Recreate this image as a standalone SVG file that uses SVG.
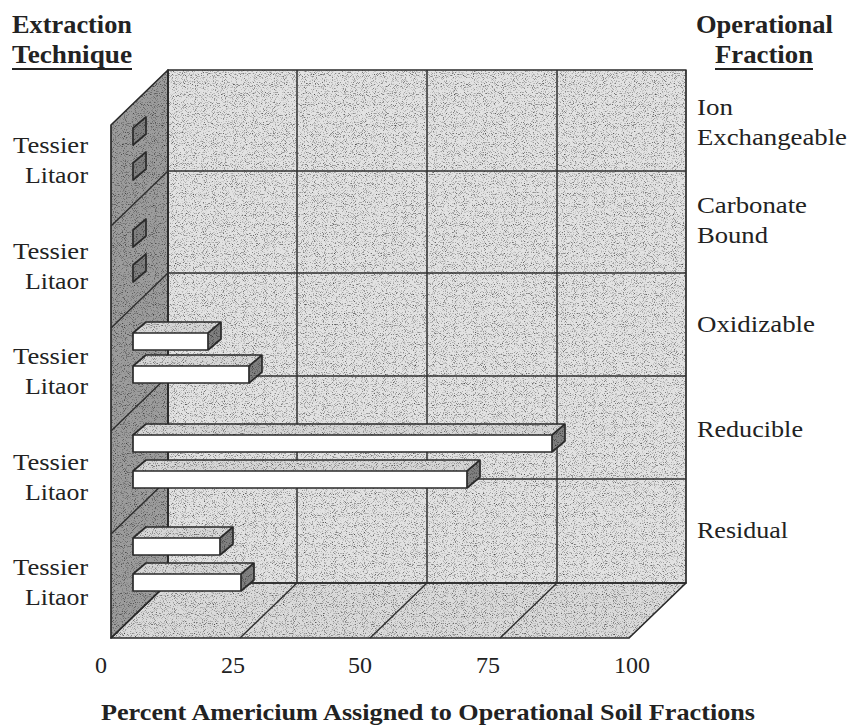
<svg xmlns="http://www.w3.org/2000/svg" width="851" height="728" viewBox="0 0 851 728">
<defs>
<filter id="speckle" filterUnits="userSpaceOnUse" x="0" y="0" width="851" height="728" color-interpolation-filters="sRGB">
<feTurbulence type="fractalNoise" baseFrequency="1.1" numOctaves="1" seed="7" result="n"/>
<feColorMatrix in="n" type="matrix" values="2.2 0 0 0 -0.05  2.2 0 0 0 -0.05  2.2 0 0 0 -0.05  0 0 0 0 1" result="g"/>
<feComposite in="g" in2="SourceGraphic" operator="in" result="gc"/>
<feBlend in="gc" in2="SourceGraphic" mode="multiply"/>
</filter>
<style>
.edge{fill:none;stroke:#2a2a2a;stroke-width:1.7;stroke-linejoin:round}
.grid{fill:none;stroke:#303030;stroke-width:1.5}
.back{fill:#e2e2e2}
.side{fill:#9c9c9c}
.floor{fill:#dadada}
.btop{fill:#d6d6d6}
.bend{fill:#808080}
.bfront{fill:#ffffff}
.t{font-family:'Liberation Serif','Times New Roman',Times,serif;font-size:24px;fill:#222}
.b{font-family:'Liberation Serif','Times New Roman',Times,serif;font-size:25px;font-weight:bold;fill:#222}
</style>
</defs>

<g id="chart-fills" filter="url(#speckle)">
<rect class="back" x="168" y="70" width="518" height="513"/>
<polygon class="side" points="168,70 168,583 111,638 111,125"/>
<polygon class="floor" points="168,583 686,583 629,638 111,638"/>
</g>

<g id="grid">
<rect class="edge" x="168" y="70" width="518" height="513"/>
<polygon class="edge" points="168,70 168,583 111,638 111,125"/>
<polygon class="edge" points="168,583 686,583 629,638 111,638"/>
<path class="grid" d="M168,171H686M168,273H686M168,376H686M168,479H686"/>
<path class="grid" d="M297,70V583M427,70V583M557,70V583"/>
<path class="grid" d="M168,171L111,226M168,273L111,328M168,376L111,431M168,479L111,534"/>
<path class="grid" d="M297,583L240,638M427,583L370,638M557,583L500,638"/>
</g>

<g id="bars">
<g id="bar-ion-tessier"><polygon class="bend" filter="url(#speckle)" points="133,128 146,117 146,134 133,145"/><polygon class="edge" points="133,128 146,117 146,134 133,145"/></g>
<g id="bar-ion-litaor"><polygon class="bend" filter="url(#speckle)" points="133,163 146,152 146,169 133,180"/><polygon class="edge" points="133,163 146,152 146,169 133,180"/></g>
<g id="bar-carb-tessier"><polygon class="bend" filter="url(#speckle)" points="133,230 146,219 146,236 133,247"/><polygon class="edge" points="133,230 146,219 146,236 133,247"/></g>
<g id="bar-carb-litaor"><polygon class="bend" filter="url(#speckle)" points="133,265 146,254 146,271 133,282"/><polygon class="edge" points="133,265 146,254 146,271 133,282"/></g>

<g id="bar-oxid-tessier">
<g filter="url(#speckle)">
<polygon class="btop" points="133,333 146,322 221,322 208,333"/>
<polygon class="bend" points="208,333 221,322 221,339 208,350"/>
</g>
<rect class="bfront" x="133" y="333" width="75" height="17"/>
<path class="edge" d="M133,333L146,322H221L208,333ZM221,322V339L208,350M133,333H208V350H133Z"/>
</g>
<g id="bar-oxid-litaor">
<g filter="url(#speckle)">
<polygon class="btop" points="133,366 146,355 262,355 249,366"/>
<polygon class="bend" points="249,366 262,355 262,372 249,383"/>
</g>
<rect class="bfront" x="133" y="366" width="116" height="17"/>
<path class="edge" d="M133,366L146,355H262L249,366ZM262,355V372L249,383M133,366H249V383H133Z"/>
</g>
<g id="bar-red-tessier">
<g filter="url(#speckle)">
<polygon class="btop" points="133,435 146,424 565,424 552,435"/>
<polygon class="bend" points="552,435 565,424 565,441 552,452"/>
</g>
<rect class="bfront" x="133" y="435" width="419" height="17"/>
<path class="edge" d="M133,435L146,424H565L552,435ZM565,424V441L552,452M133,435H552V452H133Z"/>
</g>
<g id="bar-red-litaor">
<g filter="url(#speckle)">
<polygon class="btop" points="133,471 146,460 480,460 467,471"/>
<polygon class="bend" points="467,471 480,460 480,477 467,488"/>
</g>
<rect class="bfront" x="133" y="471" width="334" height="17"/>
<path class="edge" d="M133,471L146,460H480L467,471ZM480,460V477L467,488M133,471H467V488H133Z"/>
</g>
<g id="bar-res-tessier">
<g filter="url(#speckle)">
<polygon class="btop" points="133,538 146,527 233,527 220,538"/>
<polygon class="bend" points="220,538 233,527 233,544 220,555"/>
</g>
<rect class="bfront" x="133" y="538" width="87" height="17"/>
<path class="edge" d="M133,538L146,527H233L220,538ZM233,527V544L220,555M133,538H220V555H133Z"/>
</g>
<g id="bar-res-litaor">
<g filter="url(#speckle)">
<polygon class="btop" points="133,574 146,563 254,563 241,574"/>
<polygon class="bend" points="241,574 254,563 254,580 241,591"/>
</g>
<rect class="bfront" x="133" y="574" width="108" height="17"/>
<path class="edge" d="M133,574L146,563H254L241,574ZM254,563V580L241,591M133,574H241V591H133Z"/>
</g>
</g>

<g id="headers">
<text class="b" x="12" y="33" textLength="120" lengthAdjust="spacingAndGlyphs">Extraction</text>
<text class="b" x="12" y="63" textLength="120" lengthAdjust="spacingAndGlyphs">Technique</text>
<line x1="12" y1="69" x2="132" y2="69" stroke="#222" stroke-width="2"/>
<text class="b" x="696" y="33" textLength="137" lengthAdjust="spacingAndGlyphs">Operational</text>
<text class="b" x="715" y="63" textLength="98" lengthAdjust="spacingAndGlyphs">Fraction</text>
<line x1="715" y1="69" x2="813" y2="69" stroke="#222" stroke-width="2"/>
</g>

<g id="technique-labels">
<text class="t" x="13" y="153" textLength="75" lengthAdjust="spacingAndGlyphs">Tessier</text>
<text class="t" x="25" y="183" textLength="63" lengthAdjust="spacingAndGlyphs">Litaor</text>
<text class="t" x="13" y="259" textLength="75" lengthAdjust="spacingAndGlyphs">Tessier</text>
<text class="t" x="25" y="289" textLength="63" lengthAdjust="spacingAndGlyphs">Litaor</text>
<text class="t" x="13" y="364" textLength="75" lengthAdjust="spacingAndGlyphs">Tessier</text>
<text class="t" x="25" y="394" textLength="63" lengthAdjust="spacingAndGlyphs">Litaor</text>
<text class="t" x="13" y="470" textLength="75" lengthAdjust="spacingAndGlyphs">Tessier</text>
<text class="t" x="25" y="500" textLength="63" lengthAdjust="spacingAndGlyphs">Litaor</text>
<text class="t" x="13" y="575" textLength="75" lengthAdjust="spacingAndGlyphs">Tessier</text>
<text class="t" x="25" y="605" textLength="63" lengthAdjust="spacingAndGlyphs">Litaor</text>
</g>

<g id="fraction-labels">
<text class="t" x="697" y="115" textLength="36" lengthAdjust="spacingAndGlyphs">Ion</text>
<text class="t" x="697" y="145" textLength="150" lengthAdjust="spacingAndGlyphs">Exchangeable</text>
<text class="t" x="697" y="213" textLength="110" lengthAdjust="spacingAndGlyphs">Carbonate</text>
<text class="t" x="697" y="243" textLength="71" lengthAdjust="spacingAndGlyphs">Bound</text>
<text class="t" x="697" y="332" textLength="118" lengthAdjust="spacingAndGlyphs">Oxidizable</text>
<text class="t" x="697" y="437" textLength="106" lengthAdjust="spacingAndGlyphs">Reducible</text>
<text class="t" x="697" y="538" textLength="91" lengthAdjust="spacingAndGlyphs">Residual</text>
</g>

<g id="axis-labels">
<text class="t" x="101" y="673" text-anchor="middle">0</text>
<text class="t" x="233" y="673" text-anchor="middle">25</text>
<text class="t" x="360" y="673" text-anchor="middle">50</text>
<text class="t" x="488" y="673" text-anchor="middle">75</text>
<text class="t" x="632" y="673" text-anchor="middle">100</text>
</g>

<g id="axis-title">
<text class="b" x="101" y="720" style="font-size:24px" textLength="654" lengthAdjust="spacingAndGlyphs">Percent Americium Assigned to Operational Soil Fractions</text>
</g>
</svg>
